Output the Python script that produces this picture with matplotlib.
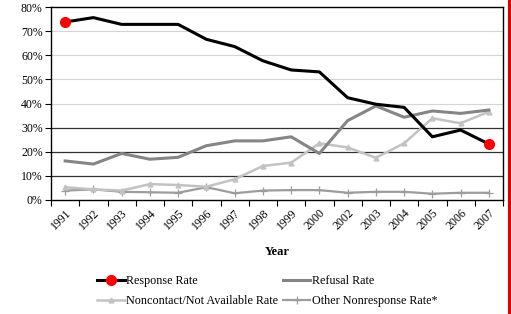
import matplotlib
matplotlib.use("Agg")
import matplotlib.pyplot as plt
from matplotlib.lines import Line2D
import numpy as np

years = ["1991", "1992", "1993", "1994", "1995", "1996", "1997", "1998",
         "1999", "2000", "2002", "2003", "2004", "2005", "2006", "2007"]
response = [73.8, 75.6, 72.8, 72.8, 72.8, 66.6, 63.6, 57.7, 53.9, 53.1,
            42.4, 39.7, 38.4, 26.2, 29.0, 23.2]
refusal = [16.2, 14.9, 19.3, 16.9, 17.7, 22.5, 24.5, 24.5, 26.2, 19.3,
           32.9, 39.0, 34.3, 36.9, 35.9, 37.3]
noncontact = [5.3, 4.4, 3.9, 6.6, 6.2, 5.5, 8.6, 14.1, 15.5, 23.5,
              21.8, 17.5, 23.5, 33.9, 31.8, 36.6]
other = [3.9, 4.4, 3.4, 3.2, 3.0, 5.3, 2.8, 3.9, 4.1, 4.1,
         3.0, 3.4, 3.4, 2.6, 3.0, 3.0]
yticks = [0, 10, 20, 30, 40, 50, 60, 70, 80]

serif = ["Liberation Serif", "DejaVu Serif"]
plt.rcParams["font.family"] = serif

fig = plt.figure(figsize=(5.11, 3.14), dpi=100)
ax = fig.add_axes([51 / 511, 1 - 200 / 314, 452 / 511, 193 / 314])

x = np.arange(len(years))
ax.set_xlim(-0.5, len(years) - 0.5)
ax.set_ylim(0, 80)

# gridlines
for v in yticks[1:-1]:
    if v <= 30:
        ax.axhline(v, color="#303030", lw=0.9, zorder=1)
    else:
        ax.axhline(v, color="#d4d4d4", lw=0.8, zorder=1)

c_ref = "#858585"
c_non = "#c2c2c2"
c_oth = "#9c9c9c"

ax.plot(x, other, color=c_oth, lw=1.6, marker="+", ms=6, mew=0.9, zorder=3)
ax.plot(x, noncontact, color=c_non, lw=1.8, marker="^", ms=3.5, zorder=3)
ax.plot(x, refusal, color=c_ref, lw=2.2, zorder=4)
ax.plot(x, response, color="black", lw=2.2, zorder=5)
ax.plot([x[0], x[-1]], [response[0], response[-1]], ls="none", marker="o",
        color="#ff0000", ms=7, zorder=6)

ax.set_yticks(yticks)
ax.set_yticklabels([f"{v}%" for v in yticks], fontsize=8.5)
ax.set_xticks(np.arange(len(years) + 1) - 0.5, minor=False)
ax.set_xticklabels([])
ax.set_xticks(x, minor=True)
ax.set_xticklabels(years, minor=True, rotation=45, ha="right",
                   rotation_mode="anchor", fontsize=8.5)
ax.tick_params(axis="x", which="major", direction="out", length=4, width=0.8)
ax.tick_params(axis="x", which="minor", length=0, pad=5)
ax.tick_params(axis="y", direction="out", length=4, width=0.8, pad=2)
for s in ax.spines.values():
    s.set_color("black")
    s.set_linewidth(1.0)

ax.set_xlabel("Year", fontsize=9, fontweight="bold", labelpad=10)

h_resp = Line2D([], [], color="black", lw=2.2, marker="o", mfc="#ff0000",
                mec="#ff0000", ms=7)
h_ref = Line2D([], [], color=c_ref, lw=2.2)
h_non = Line2D([], [], color=c_non, lw=1.8, marker="^", ms=3.5)
h_oth = Line2D([], [], color=c_oth, lw=1.6, marker="+", ms=6, mew=0.9)
handles = [h_resp, h_non, h_ref, h_oth]
labels = ["Response Rate", "Noncontact/Not Available Rate",
          "Refusal Rate", "Other Nonresponse Rate*"]
fig.legend(handles, labels, ncol=2, frameon=False, fontsize=8.7,
           loc="center", bbox_to_anchor=(267 / 511, 1 - 291 / 314),
           handlelength=2.3, handletextpad=0.1, columnspacing=0.4,
           labelspacing=0.65)

fig.add_artist(Line2D([509 / 511, 509 / 511], [0, 1], color="#e00000",
                      lw=2.2, transform=fig.transFigure))

fig.savefig("out.png", dpi=100)
